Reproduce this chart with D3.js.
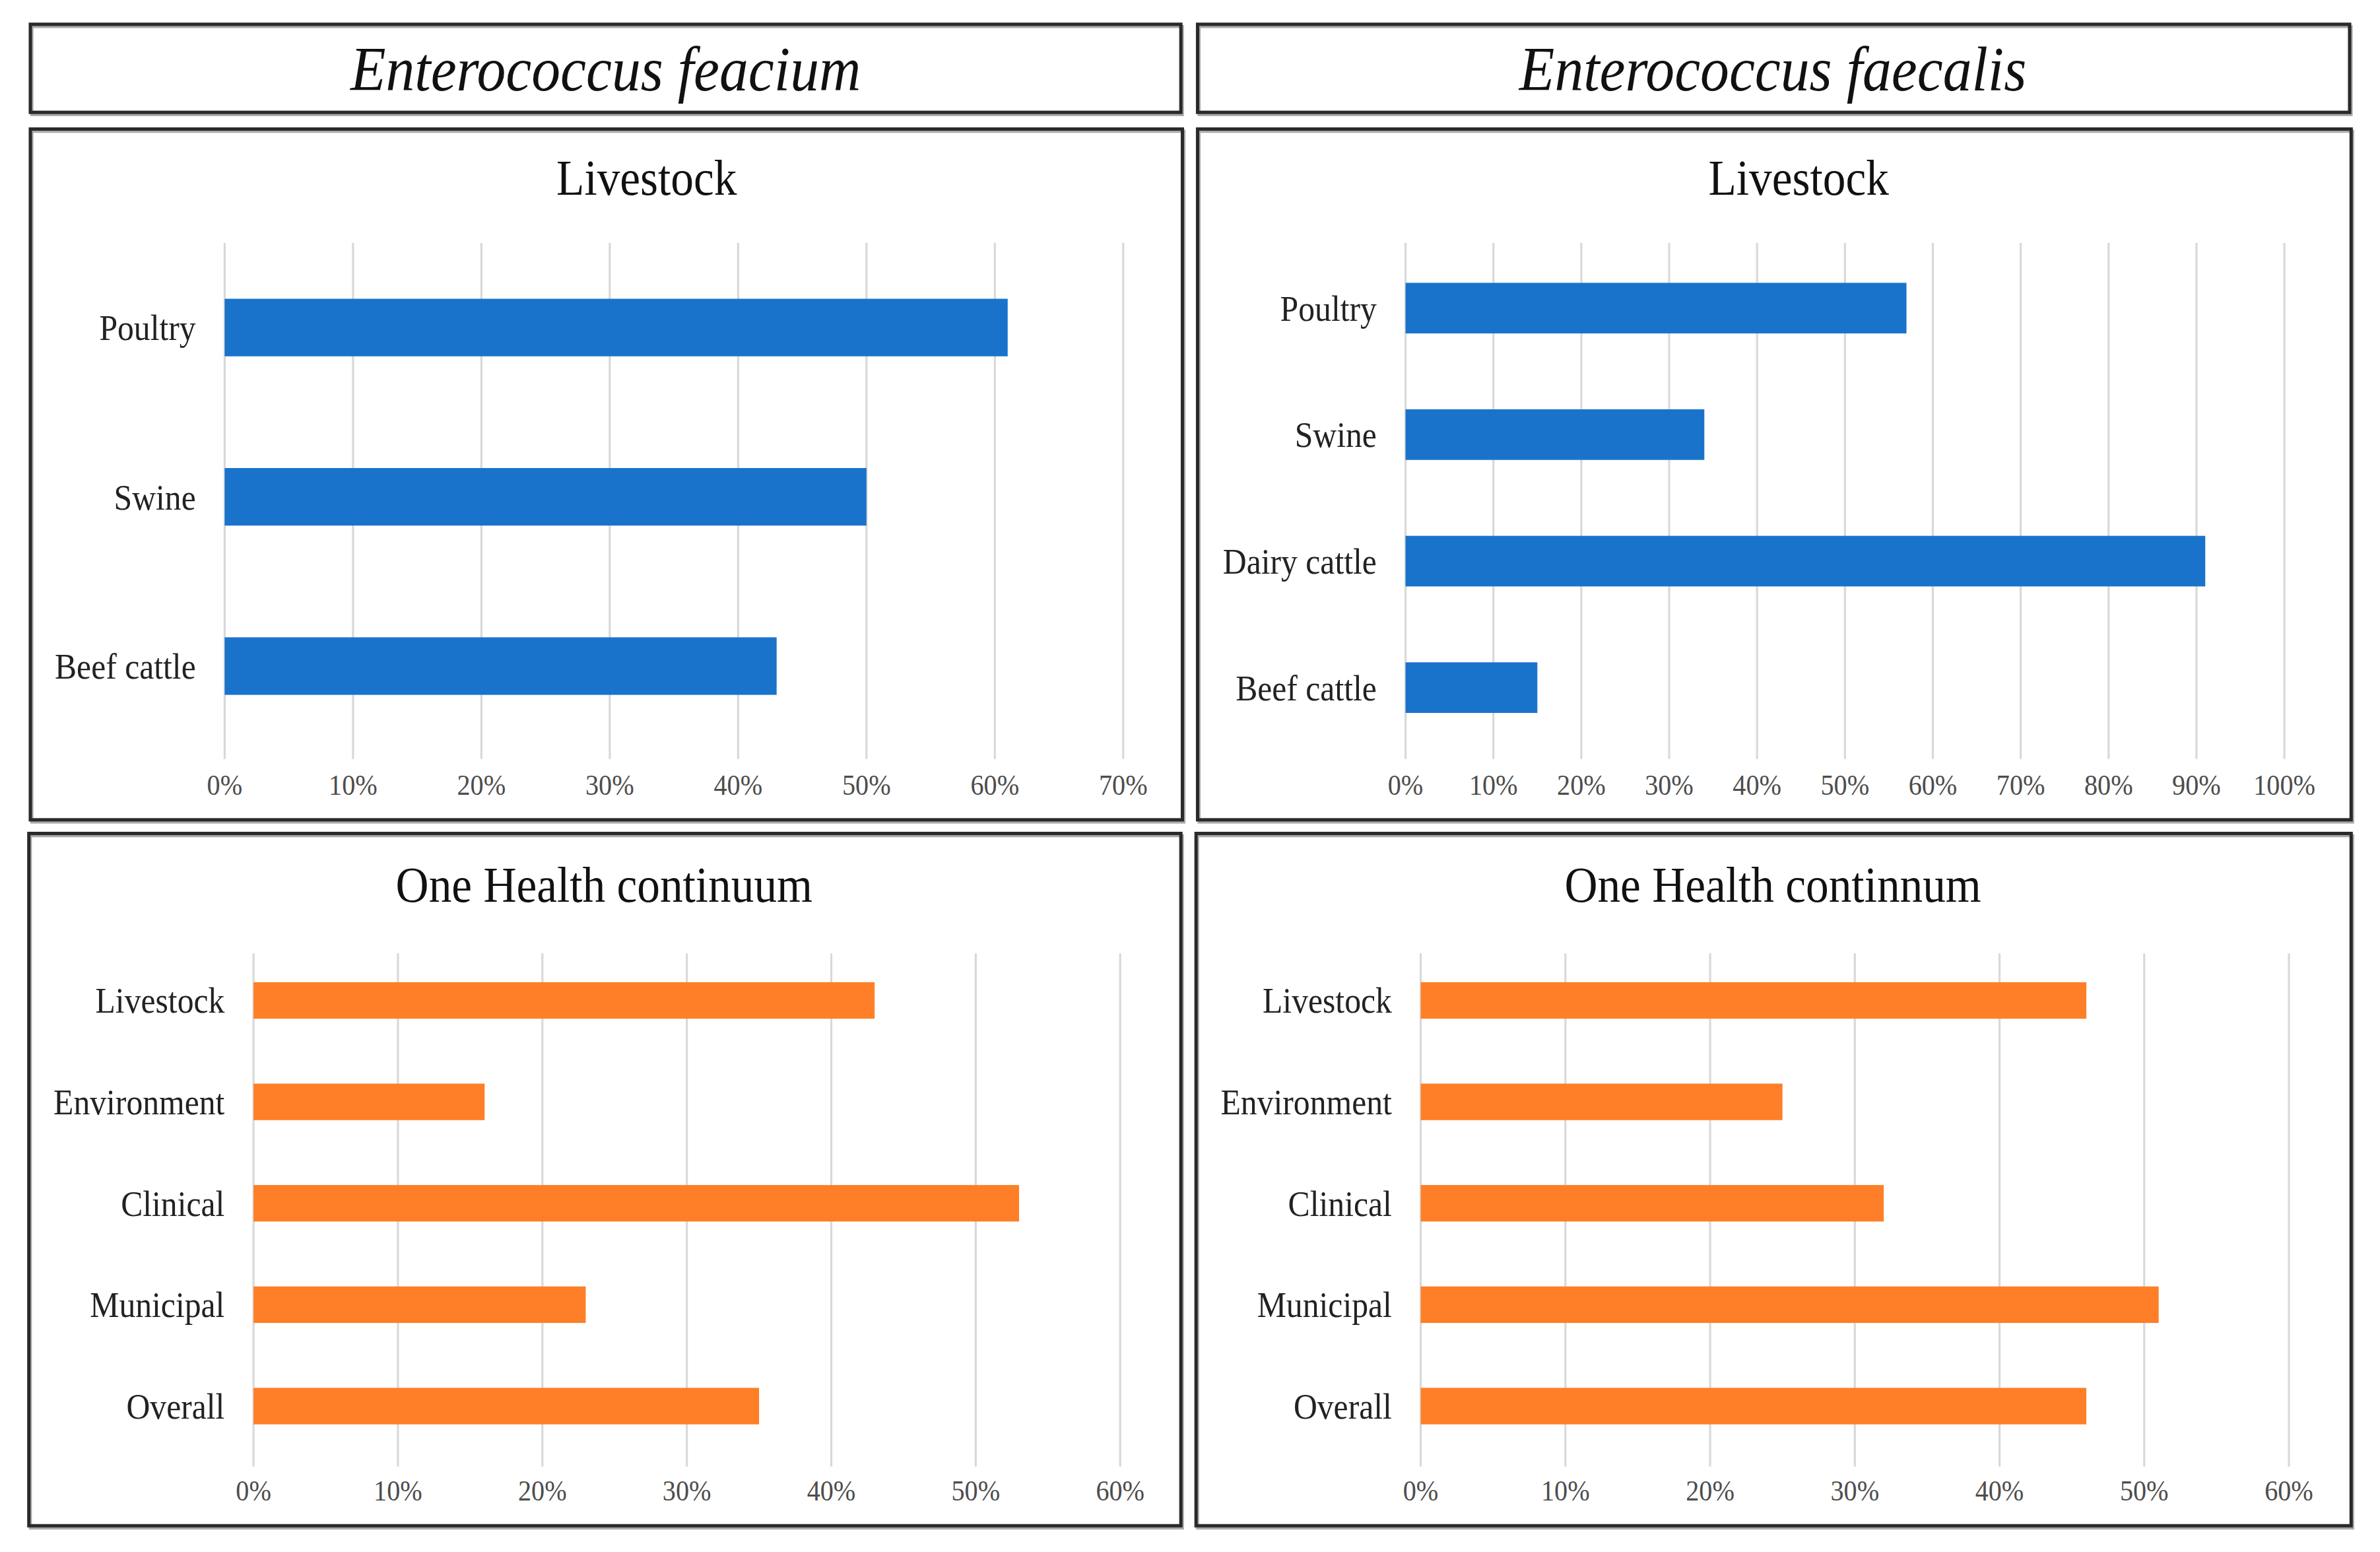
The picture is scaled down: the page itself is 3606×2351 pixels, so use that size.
<!DOCTYPE html>
<html>
<head>
<meta charset="utf-8">
<script src="https://cdn.jsdelivr.net/npm/d3@7"></script>
<style>
  html, body { margin: 0; padding: 0; background: #fff; }
  svg { display: block; }
</style>
</head>
<body>
<script>
// data (percent)
const feaciumLivestockCats = ["Poultry", "Swine", "Beef cattle"];
const feaciumLivestockVals = [61, 50, 43];
const faecalisLivestockCats = ["Poultry", "Swine", "Dairy cattle", "Beef cattle"];
const faecalisLivestockVals = [57, 34, 91, 15];
const oneHealthCats = ["Livestock", "Environment", "Clinical", "Municipal", "Overall"];
const feaciumOneHealthVals = [43, 16, 53, 23, 35];
const faecalisOneHealthVals = [46, 25, 32, 51, 46];
const ticks70 = [0, 10, 20, 30, 40, 50, 60, 70];
const ticks100 = [0, 10, 20, 30, 40, 50, 60, 70, 80, 90, 100];
const ticks60 = [0, 10, 20, 30, 40, 50, 60];
const headers = ["Enterococcus feacium", "Enterococcus faecalis"];

const W = 1568, H = 1022.3;
const blue = "#1a73cb", orange = "#fe7f27";
const serif = "'Liberation Serif', 'Times New Roman', serif";

const svg = d3.select("body")
    .append("svg")
    .attr("width", 3606)
    .attr("height", 2351)
    .attr("viewBox", `0 0 ${W} ${H}`);

function box(x, y, w, h) {
    svg.append("rect")
        .attr("x", x + 1).attr("y", y + 1.5)
        .attr("width", w).attr("height", h)
        .attr("fill", "none")
        .attr("stroke", "#aaa")
        .attr("stroke-width", 2);
    svg.append("rect")
        .attr("x", x).attr("y", y)
        .attr("width", w).attr("height", h)
        .attr("fill", "none")
        .attr("stroke", "#2a2a2a")
        .attr("stroke-width", 2.2);
}

// the figure's lettering is a bit narrow, so squeeze text horizontally
function label(parent, x, y, txt, size, sx, anchor, fill, italic) {
    return parent.append("text")
        .attr("transform", `translate(${x},${y}) scale(${sx},1)`)
        .attr("text-anchor", anchor)
        .attr("dominant-baseline", "central")
        .style("font-family", serif)
        .style("font-style", italic ? "italic" : "normal")
        .style("font-size", size + "px")
        .style("fill", fill)
        .text(txt);
}

// header boxes
box(20, 16, 758, 58);
box(789, 16, 759, 58);
label(svg, 399, 46, headers[0], 41, 0.93, "middle", "#111", true);
label(svg, 1168, 46, headers[1], 41, 0.93, "middle", "#111", true);

const panels = [
    { box: [20, 85, 759, 455], title: "Livestock", tx: 426, ty: 117,
      cats: feaciumLivestockCats, vals: feaciumLivestockVals, ticks: ticks70,
      x0: 148, x1: 740, gTop: 160, gBot: 500, band: [160, 494.5], pad: 0.66,
      tickY: 517, labelX: 129, color: blue },
    { box: [789, 85, 760, 455], title: "Livestock", tx: 1185, ty: 117,
      cats: faecalisLivestockCats, vals: faecalisLivestockVals, ticks: ticks100,
      x0: 926, x1: 1505, gTop: 160, gBot: 500, band: [161.3, 494.6], pad: 0.6,
      tickY: 517, labelX: 907, color: blue },
    { box: [19, 549, 759, 456], title: "One Health continuum", tx: 398, ty: 583,
      cats: oneHealthCats, vals: feaciumOneHealthVals, ticks: ticks60,
      x0: 167, x1: 738, gTop: 628, gBot: 966, band: [625.6, 959.6], pad: 0.64,
      tickY: 982, labelX: 148, color: orange },
    { box: [788, 549, 761, 456], title: "One Health continnum", tx: 1168, ty: 583,
      cats: oneHealthCats, vals: faecalisOneHealthVals, ticks: ticks60,
      x0: 936, x1: 1508, gTop: 628, gBot: 966, band: [625.6, 959.6], pad: 0.64,
      tickY: 982, labelX: 917, color: orange }
];

panels.forEach(p => {
    box(...p.box);

    const x = d3.scaleLinear()
        .domain([0, d3.max(p.ticks)])
        .range([p.x0, p.x1]);
    const y = d3.scaleBand()
        .domain(p.cats)
        .range(p.band)
        .paddingInner(p.pad)
        .paddingOuter(p.pad / 2);

    const g = svg.append("g");

    g.selectAll(".grid")
        .data(p.ticks)
        .enter()
        .append("line")
        .attr("x1", d => x(d)).attr("x2", d => x(d))
        .attr("y1", p.gTop).attr("y2", p.gBot)
        .attr("stroke", "#d9d9d9")
        .attr("stroke-width", 1.4);

    p.ticks.forEach(t => {
        label(g, x(t), p.tickY, t + "%", 19, 0.92, "middle", "#4d4d4d", false);
    });

    g.selectAll(".bar")
        .data(p.cats)
        .enter()
        .append("rect")
        .attr("x", x(0))
        .attr("y", d => y(d))
        .attr("width", (d, i) => x(p.vals[i]) - x(0))
        .attr("height", y.bandwidth())
        .attr("fill", p.color);

    p.cats.forEach(c => {
        label(g, p.labelX, y(c) + y.bandwidth() / 2, c, 24, 0.9, "end", "#222", false);
    });

    label(g, p.tx, p.ty, p.title, 33.5, 0.9, "middle", "#111", false);
});
</script>
</body>
</html>
